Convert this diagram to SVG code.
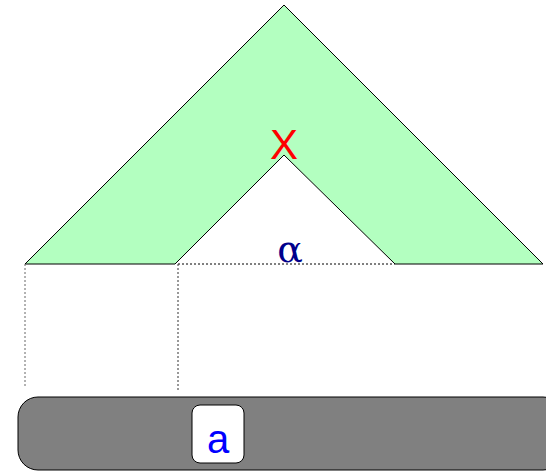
<svg xmlns="http://www.w3.org/2000/svg" width="546" height="472" viewBox="0 0 546 472">
<style>
.dot{stroke-dasharray:2,2;stroke-width:1;fill:none}
</style>
<rect width="546" height="472" fill="#fff"/>
<g id="shape">
<path d="M25,264 L284,5 L543,264 L395,264 L284,155 L175,264 Z" fill="#b3ffc0" stroke="none"/>
<path d="M175,264 L25,264 L284,5 L543,264 L395,264 L284,155 L175,264" fill="none" stroke="#000" stroke-width="1"/>
<text x="284" y="159" font-family="Liberation Sans, sans-serif" font-size="42" fill="#ff0000" text-anchor="middle">X</text>
<text x="290" y="262" font-family="DejaVu Serif, serif" font-size="38" fill="#00008b" text-anchor="middle">α</text>
</g>
<g id="connectors">
<line x1="178" y1="264" x2="395" y2="264" class="dot" stroke="#000"/>
<line x1="25" y1="264" x2="25" y2="386" class="dot" stroke="#666"/>
<line x1="178" y1="264" x2="178" y2="390" class="dot" stroke="#333"/>
</g>
<g id="bar">
<rect x="18" y="397" width="545" height="73" rx="20" fill="#808080" stroke="#000" stroke-width="1"/>
</g>
<g id="node-a">
<rect x="192" y="405" width="52" height="58" rx="8" fill="#fff" stroke="#000" stroke-width="1"/>
<text x="218" y="453" font-family="Liberation Sans, sans-serif" font-size="40" fill="#0000ff" text-anchor="middle">a</text>
</g>
</svg>
